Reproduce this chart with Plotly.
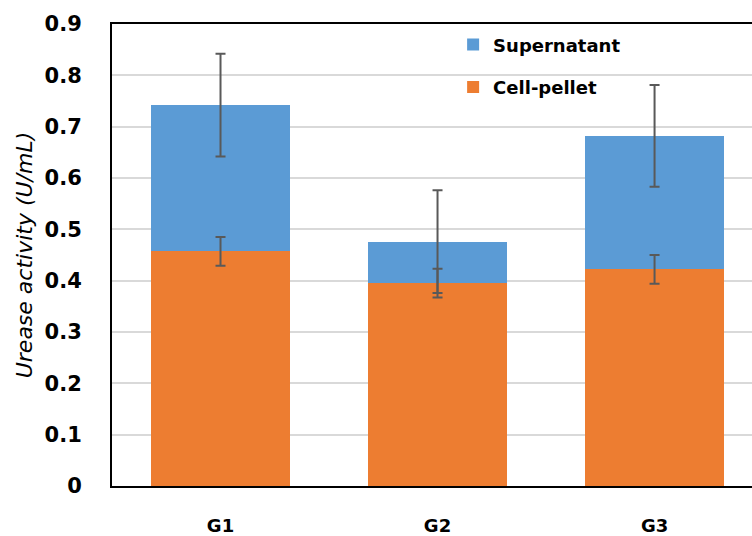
import plotly.graph_objects as go

# Urease activity per group, split into cell-pellet and supernatant fractions
groups = ["G1", "G2", "G3"]
cell_pellet = [0.457, 0.395, 0.422]
cell_pellet_err = [0.028, 0.028, 0.028]
supernatant = [0.285, 0.081, 0.260]
supernatant_err = [0.100, 0.100, 0.099]

y_ticks = [0, 0.1, 0.2, 0.3, 0.4, 0.5, 0.6, 0.7, 0.8, 0.9]
y_tick_labels = ["0", "0.1", "0.2", "0.3", "0.4", "0.5", "0.6", "0.7", "0.8", "0.9"]

ORANGE = "#ED7D31"
BLUE = "#5B9BD5"
ERR = "#595959"
FONT = "DejaVu Sans"

totals = [p + s for p, s in zip(cell_pellet, supernatant)]

fig = go.Figure()
fig.add_trace(go.Bar(
    x=groups, y=cell_pellet, name="Cell-pellet",
    marker=dict(color=ORANGE, line=dict(width=0)),
    width=0.64, legendgroup="pellet", legendrank=2,
))
fig.add_trace(go.Bar(
    x=groups, y=supernatant, name="Supernatant",
    marker=dict(color=BLUE, line=dict(width=0)),
    width=0.64, legendgroup="super", legendrank=1,
))

# error bars drawn on top of the stacked bars
for y_vals, err in [(cell_pellet, cell_pellet_err), (totals, supernatant_err)]:
    fig.add_trace(go.Scatter(
        x=groups, y=y_vals, mode="markers",
        marker=dict(size=1, opacity=0),
        error_y=dict(type="data", array=err, visible=True,
                     color=ERR, thickness=2, width=5),
        showlegend=False, hoverinfo="skip",
    ))

fig.update_layout(
    width=752, height=536,
    margin=dict(l=112, r=0, t=24, b=45),
    barmode="stack",
    plot_bgcolor="white", paper_bgcolor="white",
    font=dict(family=FONT, color="black"),
    showlegend=True,
    legend=dict(
        x=0.533, y=0.995, xanchor="left", yanchor="top",
        xref="paper", yref="paper",
        traceorder="grouped", tracegroupgap=16,
        font=dict(family=FONT, size=18, color="black", weight="bold"),
        bgcolor="rgba(0,0,0,0)",
    ),
    xaxis=dict(
        range=[-0.5, 2.449],
        showline=True, linecolor="black", linewidth=2, mirror=True,
        showgrid=False, ticks="outside", ticklen=22, tickcolor="rgba(0,0,0,0)",
        tickfont=dict(family=FONT, size=18, color="black", weight="bold"),
    ),
    yaxis=dict(
        range=[0, 0.9],
        tickvals=y_ticks, ticktext=y_tick_labels,
        showline=True, linecolor="black", linewidth=2, mirror=False,
        showgrid=True, gridcolor="#D9D9D9", gridwidth=1.5,
        zeroline=False,
        ticks="outside", ticklen=24, tickcolor="rgba(0,0,0,0)",
        tickfont=dict(family=FONT, size=21, color="black", weight="bold"),
        title=dict(text="<i>Urease activity (U/mL)</i>", standoff=6,
                   font=dict(family=FONT, size=22, color="black")),
    ),
)

fig.write_html("out.html")
